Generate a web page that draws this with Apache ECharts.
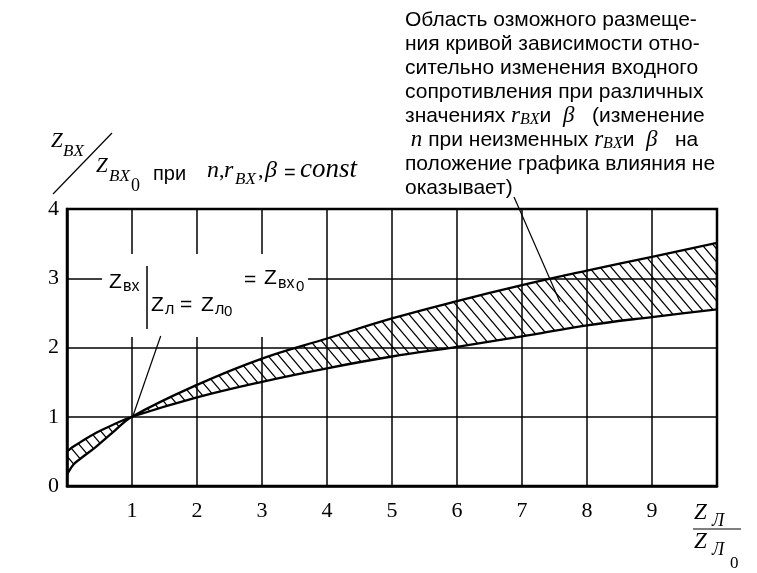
<!DOCTYPE html>
<html><head><meta charset="utf-8">
<script src="https://cdn.jsdelivr.net/npm/echarts/dist/echarts.min.js"></script>
<style>html,body{margin:0;padding:0;background:#fff}#c{width:757px;height:573px}</style>
</head><body><div id="c"></div>
<script>
// ---- data ----
// the two boundary curves of the hatched region cross at (1, 1)
const xValues    = [0,    0.1,  0.2,  0.45, 0.7,  1,   2,    3,    4,    5,    6,    7,    8,    9,    10];
const steepCurve = [0.17, 0.31, 0.39, 0.57, 0.77, 1.0, 1.46, 1.84, 2.13, 2.42, 2.67, 2.90, 3.11, 3.31, 3.51];
const flatCurve  = [0.50, 0.57, 0.63, 0.77, 0.88, 1.0, 1.28, 1.505,1.70, 1.87, 2.01, 2.16, 2.32, 2.44, 2.55];
const xTickLabels = ['1','2','3','4','5','6','7','8','9'];
const yTickLabels = ['0','1','2','3','4'];
const noteLines = [
  'Область озможного размеще-',
  'ния кривой зависимости отно-',
  'сительно изменения входного',
  'сопротивления при различных',
  'значениях {it|r}{sub|BX}{n|и  }{it|β}{n|   (изменение}',
  ' {it|n}{n| при неизменных }{it|r}{sub|BX}{n|и  }{it|β}{n|   на}',
  'положение графика влияния не',
  'оказывает)'
];

// hatch pattern
const pc = document.createElement('canvas');
pc.width = 11; pc.height = 13;
const g = pc.getContext('2d');
g.strokeStyle = '#000'; g.lineWidth = 1.2;
g.beginPath();
g.moveTo(-1.1, -1.3); g.lineTo(12.1, 14.3);
g.moveTo(-1.1, 11.7); g.lineTo(1.1, 14.3);
g.moveTo(9.9, -1.3); g.lineTo(12.1, 1.3);
g.stroke();
const hatch = { image: pc, repeat: 'repeat' };

const SERIF = 'Liberation Serif', SANS = 'Liberation Sans';
const chart = echarts.init(document.getElementById('c'), null, { renderer: 'canvas' });

function txt(x, y, text, size, opts) {
  opts = opts || {};
  return { type: 'text', z: 100, x: x, y: y, style: {
    text: text, fill: '#000', font: (opts.italic ? 'italic ' : '') + size + 'px "' + (opts.family || SANS) + '"',
    textAlign: opts.align || 'left', textVerticalAlign: 'middle'
  }};
}
function line(x1, y1, x2, y2, w) {
  return { type: 'line', z: 100, shape: { x1: x1, y1: y1, x2: x2, y2: y2 }, style: { stroke: '#000', lineWidth: w || 1.2 } };
}

const option = {
  animation: false,
  backgroundColor: '#fff',
  grid: { left: 67, right: 40, top: 209, bottom: 87, show: true, borderColor: '#000', borderWidth: 2.5, backgroundColor: 'transparent' },
  xAxis: {
    type: 'value', min: 0, max: 10, interval: 1,
    axisLine: { show: true, lineStyle: { color: '#000', width: 2.5 } },
    axisTick: { show: false },
    splitLine: { show: true, lineStyle: { color: '#000', width: 1.5 } },
    axisLabel: { margin: 14, color: '#000', fontFamily: SERIF, fontSize: 22,
      formatter: function (v) { return xTickLabels[v - 1] || ''; } }
  },
  yAxis: {
    type: 'value', min: 0, max: 4, interval: 1,
    axisLine: { show: true, lineStyle: { color: '#000', width: 2.5 } },
    axisTick: { show: false },
    splitLine: { show: true, lineStyle: { color: '#000', width: 1.5 } },
    axisLabel: { margin: 8, color: '#000', fontFamily: SERIF, fontSize: 22,
      formatter: function (v) { return yTickLabels[v]; } }
  },
  series: [
    {
      // hatched region between the two curves, outlined by the curves themselves
      type: 'custom', z: 3, clip: true, silent: true,
      data: xValues.map(function (x, i) { return [x, steepCurve[i], flatCurve[i]]; }),
      renderItem: function (params, api) {
        if (params.dataIndex !== 0) return null;
        const a = xValues.map(function (x, i) { return api.coord([x, steepCurve[i]]); });
        const b = xValues.map(function (x, i) { return api.coord([x, flatCurve[i]]); });
        const br = b.slice().reverse();
        // duplicate end points so the closed smooth outline keeps open-curve ends
        const pts = [a[0]].concat(a, [a[a.length - 1]], [br[0]], br, [br[br.length - 1]]);
        return { type: 'polygon', shape: { points: pts, smooth: 0.4 },
                 style: { fill: hatch, stroke: '#000', lineWidth: 2.3, lineJoin: 'round' } };
      }
    }
  ],
  graphic: [
    // y-axis title
    txt(51, 141, 'Z', 21, { italic: true, family: SERIF }),
    txt(63, 152, 'BX', 17, { italic: true, family: SERIF }),
    line(53, 194, 112, 133, 1.2),
    txt(96, 166, 'Z', 21, { italic: true, family: SERIF }),
    txt(109, 177, 'BX', 17, { italic: true, family: SERIF }),
    txt(131, 186, '0', 18, { family: SERIF }),
    txt(153, 174, 'при', 20),
    txt(207, 171, 'n', 24, { italic: true, family: SERIF }),
    txt(219, 171, ',', 22, { family: SERIF }),
    txt(224, 171, 'r', 24, { italic: true, family: SERIF }),
    txt(235, 180, 'BX', 17, { italic: true, family: SERIF }),
    txt(258, 171, ',', 22, { family: SERIF }),
    txt(265, 171, 'β', 24, { italic: true, family: SERIF }),
    txt(284, 173, '=', 20),
    txt(300, 170, 'const', 27, { italic: true, family: SERIF }),
    // label at (1,1)
    { type: 'rect', z: 90, shape: { x: 102, y: 254, width: 206, height: 83 }, style: { fill: '#fff' } },
    txt(109, 282, 'Z', 21),
    txt(123, 287, 'вх', 16),
    line(147, 266, 147, 329, 1.5),
    txt(151, 305, 'Z', 21),
    txt(165, 310, 'л', 16),
    txt(180, 305, '=', 21),
    txt(201, 305, 'Z', 21),
    txt(215, 310, 'л', 16),
    txt(224, 312, '0', 15),
    txt(244, 280, '=', 21),
    txt(264, 278, 'Z', 21),
    txt(278, 284, 'вх', 16),
    txt(296, 287, '0', 15),
    line(160.7, 336, 132.3, 417.7, 1.2),
    // annotation
    { type: 'text', z: 100, x: 405, y: 8, style: {
      text: noteLines.map(function (l) { return l.indexOf('{') >= 0 ? l.replace(/^([^{]+)/, '{n|$1}') : '{n|' + l + '}'; }).join('\n'),
      textVerticalAlign: 'top',
      rich: {
        n: { fontFamily: SANS, fontSize: 21, lineHeight: 24, fill: '#000' },
        it: { fontFamily: SERIF, fontStyle: 'italic', fontSize: 23, lineHeight: 24, fill: '#000' },
        sub: { fontFamily: SERIF, fontStyle: 'italic', fontSize: 16, lineHeight: 16, verticalAlign: 'bottom', fill: '#000' }
      } } },
    line(514, 197, 560, 302, 1.2),
    // x-axis title
    txt(694, 513, 'Z', 23, { italic: true, family: SERIF }),
    txt(712, 521, 'Л', 18, { italic: true, family: SERIF }),
    line(693, 529, 741, 529, 1.2),
    txt(694, 542, 'Z', 23, { italic: true, family: SERIF }),
    txt(712, 550, 'Л', 18, { italic: true, family: SERIF }),
    txt(730, 564, '0', 17, { family: SERIF })
  ]
};
chart.setOption(option);
</script>
</body></html>
